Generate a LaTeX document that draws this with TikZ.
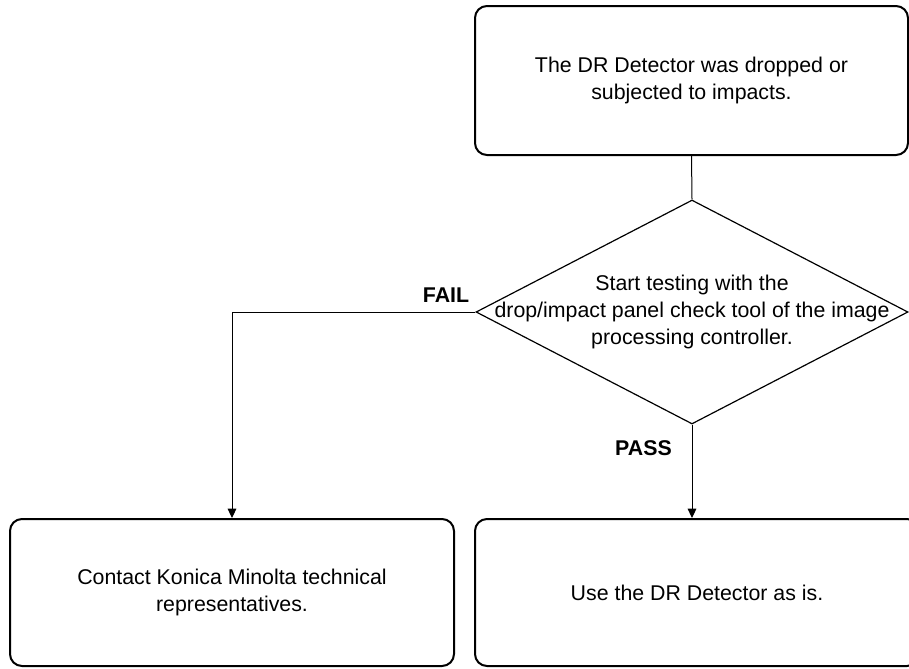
\documentclass[tikz,border=0pt]{standalone}
\usepackage{fontspec}
\setmainfont{Liberation Sans}
\usepackage{tikz}
\usetikzlibrary{shapes.geometric, arrows.meta, positioning}
\tikzset{
	infobox/.style  ={rectangle, rounded corners=9pt, draw=black, line width=1.5pt, text centered, align=center, minimum height=110.25pt},
	decision/.style ={diamond, draw=black, line width=0.9pt, minimum width=324pt, minimum height=168pt, inner sep=0pt},
	flowline/.style ={line width=0.75pt},
	flowarrow/.style={-{Triangle[length=7pt, width=6.5pt]}, line width=0.75pt},
	branch/.style   ={font=\fontsize{16}{20}\selectfont\bfseries, inner sep=0pt},
}

\begin{document}
\begin{tikzpicture}[x=0.75pt, y=-0.75pt, font=\fontsize{16}{20}\selectfont]
	\useasboundingbox (0,0) rectangle (909,668);
	\clip (0,0) rectangle (909,668);
	\node[infobox, minimum width=324.75pt, minimum height=111.75pt] (drop) at (691.5,80.5) {The DR Detector was dropped or\\ subjected to impacts.};
	\node[decision] (test) at (692,312) {};
	\node[align=center] (testtext) at (test.center) {Start testing with the\\ drop/impact panel check tool of the image\\ processing controller.};
	\node[infobox, minimum width=333pt] (contact) at (232,592.5) {Contact Konica Minolta technical\\ representatives.};
	\node[infobox, minimum width=333pt] (asis) at (697,592.5) {Use the DR Detector as is.};
	\node[branch, above left=6.75pt and 4.5pt of test.west] (fail) {FAIL};
	\node[branch, below left=12pt and 15pt of test.south] (pass) {PASS};
	\draw[flowline] (drop.south) -- (test.north);
	\draw[flowarrow] (test.west) -| (contact.north);
	\draw[flowarrow] (test.south) -- (test.south |- asis.north);
\end{tikzpicture}
\end{document}
